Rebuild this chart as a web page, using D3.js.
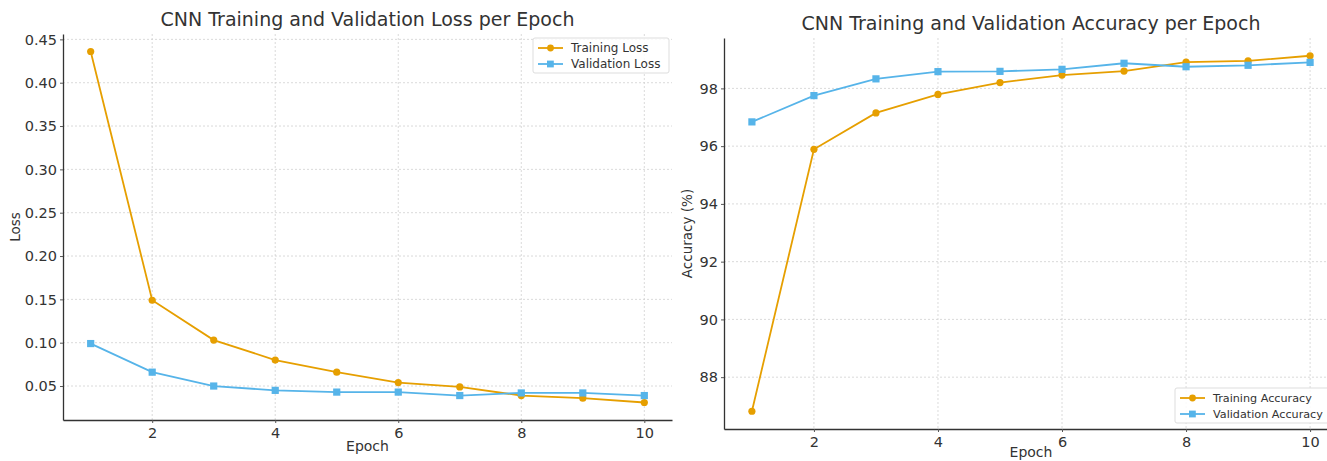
<!DOCTYPE html>
<html><head><meta charset="utf-8">
<script src="https://cdn.jsdelivr.net/npm/d3@7"></script>
<style>body{margin:0;background:#fff;} svg{display:block;font-family:"DejaVu Sans",sans-serif;}</style>
</head><body>
<svg id="c" width="1327" height="461"></svg>
<script>
const epochs = [1,2,3,4,5,6,7,8,9,10];
const trainLoss = [0.436,0.149,0.103,0.080,0.066,0.054,0.049,0.039,0.036,0.031];
const valLoss   = [0.099,0.066,0.050,0.045,0.043,0.043,0.039,0.042,0.042,0.039];
const trainAcc  = [86.82,95.89,97.15,97.79,98.20,98.46,98.60,98.91,98.95,99.13];
const valAcc    = [96.84,97.75,98.33,98.58,98.59,98.66,98.87,98.75,98.80,98.90];
const xTicks = [2,4,6,8,10];
const lossTicks = [0.05,0.10,0.15,0.20,0.25,0.30,0.35,0.40,0.45];
const accTicks = [88,90,92,94,96,98];
const cTrain = "#E69F00", cVal = "#56B4E9";

const svg = d3.select("#c");

function panel(o){
  const g = svg.append("g");
  const x = d3.scaleLinear().domain([0.55,10.45]).range([o.left,o.right]);
  const y = d3.scaleLinear().domain(o.ydom).range([o.bottom,o.top]);
  g.append("g").selectAll("line").data(o.yTicks).join("line")
    .attr("x1",o.left).attr("x2",o.right).attr("y1",d=>y(d)).attr("y2",d=>y(d))
    .attr("stroke","#d0d0d0").attr("stroke-width",0.8).attr("stroke-dasharray","2,2");
  g.append("g").selectAll("line").data(xTicks).join("line")
    .attr("y1",o.top).attr("y2",o.bottom).attr("x1",d=>x(d)).attr("x2",d=>x(d))
    .attr("stroke","#d0d0d0").attr("stroke-width",0.8).attr("stroke-dasharray","2,2");
  const xa = g.append("g").attr("transform",`translate(0,${o.bottom})`)
    .call(d3.axisBottom(x).tickValues(xTicks).tickSize(3).tickSizeOuter(0).tickFormat(d3.format("d")));
  const ya = g.append("g").attr("transform",`translate(${o.left},0)`)
    .call(d3.axisLeft(y).tickValues(o.yTicks).tickSize(3).tickSizeOuter(0).tickFormat(o.fmt));
  [xa,ya].forEach(a=>{
    a.select(".domain").attr("stroke","#333").attr("stroke-width",1.3);
    a.selectAll(".tick line").attr("stroke","#555");
    a.selectAll("text").attr("fill","#333").attr("font-size",14.5).attr("font-family","DejaVu Sans");
  });
  xa.selectAll("text").attr("dy","0.8em");
  const series = [{v:o.train,c:cTrain,m:"c"},{v:o.val,c:cVal,m:"s"}];
  const line = d3.line().x((d,i)=>x(epochs[i])).y(d=>y(d));
  series.forEach(s=>{
    g.append("path").datum(s.v).attr("d",line).attr("fill","none")
      .attr("stroke",s.c).attr("stroke-width",1.8);
    if(s.m==="c"){
      g.append("g").selectAll("circle").data(s.v).join("circle")
        .attr("cx",(d,i)=>x(epochs[i])).attr("cy",d=>y(d)).attr("r",3.6).attr("fill",s.c);
    } else {
      g.append("g").selectAll("rect").data(s.v).join("rect")
        .attr("x",(d,i)=>x(epochs[i])-3.6).attr("y",d=>y(d)-3.6)
        .attr("width",7.2).attr("height",7.2).attr("fill",s.c);
    }
  });
  g.append("text").attr("x",(o.left+o.right)/2).attr("y",o.top-8).attr("text-anchor","middle")
    .attr("font-size",19).attr("fill","#333").text(o.title);
  g.append("text").attr("x",(o.left+o.right)/2).attr("y",o.xlabY).attr("text-anchor","middle")
    .attr("font-size",14).attr("fill","#333").text("Epoch");
  g.append("text").attr("transform",`translate(${o.ylabX},${(o.top+o.bottom)/2}) rotate(-90)`)
    .attr("text-anchor","middle").attr("font-size",13.5).attr("fill","#333").text(o.ylab);
  const L = g.append("g").attr("transform",`translate(${o.lx},${o.ly})`);
  L.append("rect").attr("x",0).attr("y",0).attr("width",o.lw).attr("height",35)
    .attr("fill","#fff").attr("fill-opacity",0.85).attr("stroke","#ddd").attr("rx",2);
  o.labels.forEach((t,i)=>{
    const yy = 10 + i*16;
    L.append("line").attr("x1",5).attr("x2",30).attr("y1",yy).attr("y2",yy)
      .attr("stroke",series[i].c).attr("stroke-width",1.8);
    if(i===0) L.append("circle").attr("cx",17.5).attr("cy",yy).attr("r",3.4).attr("fill",series[i].c);
    else L.append("rect").attr("x",14).attr("y",yy-3.4).attr("width",6.8).attr("height",6.8).attr("fill",series[i].c);
    L.append("text").attr("x",38).attr("y",yy+4).attr("font-size",o.lfs).attr("fill","#333").text(t);
  });
}

panel({left:63,right:672,top:34,bottom:420,ydom:[0.0108,0.4562],yTicks:lossTicks,
  fmt:d3.format(".2f"),train:trainLoss,val:valLoss,title:"CNN Training and Validation Loss per Epoch",
  ylab:"Loss",ylabX:20,xlabY:451,lx:533,ly:38,lw:136,lfs:12,labels:["Training Loss","Validation Loss"]});
panel({left:724,right:1338,top:38,bottom:429,ydom:[86.205,99.745],yTicks:accTicks,
  fmt:d3.format("d"),train:trainAcc,val:valAcc,title:"CNN Training and Validation Accuracy per Epoch",
  ylab:"Accuracy (%)",ylabX:692,xlabY:457,lx:1175,ly:388,lw:160,lfs:11.2,labels:["Training Accuracy","Validation Accuracy"]});
</script>
</body></html>
